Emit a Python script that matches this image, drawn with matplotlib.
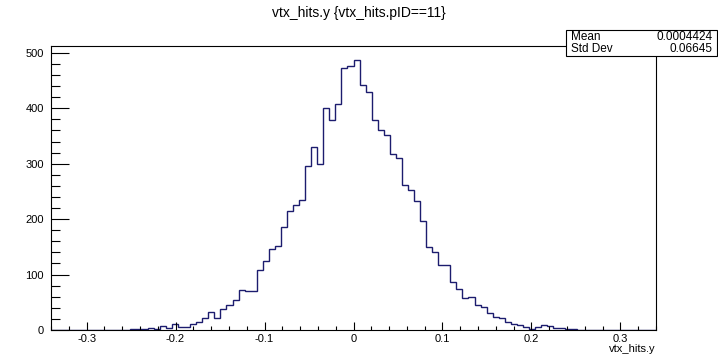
import numpy as np
import matplotlib
matplotlib.use('Agg')
import matplotlib.pyplot as plt
from matplotlib.ticker import MultipleLocator
from matplotlib.patches import Rectangle

plt.rcParams['font.family'] = ['Liberation Sans', 'DejaVu Sans']

# Histogram of vtx_hits.y, 100 bins from -0.34 to 0.34
x_min, x_max, n_bins = -0.34, 0.34, 100
counts = [0] * 13 + [
    1, 1, 2, 3, 2, 7, 4, 11, 5, 5,
    10, 15, 21, 33, 21, 38, 45, 54, 73, 70,
    70, 108, 125, 147, 151, 186, 214, 225, 235, 296,
    330, 300, 400, 378, 407, 472, 476, 488, 442, 429,
    379, 360, 351, 317, 311, 262, 253, 232, 197, 149,
    140, 118, 118, 87, 74, 57, 60, 46, 42, 30,
    24, 22, 14, 11, 9, 5, 2, 6, 9, 7,
    4, 3, 2, 2,
]
counts = counts + [0] * (n_bins - len(counts))

title = 'vtx_hits.y {vtx_hits.pID==11}'
x_title = 'vtx_hits.y'
stats = [('Mean', '0.0004424'), ('Std Dev', '0.06645')]

edges = np.linspace(x_min, x_max, n_bins + 1)

fig = plt.figure(figsize=(7.18, 3.55), dpi=100)
ax = fig.add_axes([51 / 718, 25 / 355, 605 / 718, 284 / 355])

ax.stairs(counts, edges, color='#1c1c6e', linewidth=1.0)
ax.set_xlim(x_min, x_max)
ax.set_ylim(0, 1.05 * max(counts))

ax.xaxis.set_major_locator(MultipleLocator(0.1))
ax.xaxis.set_minor_locator(MultipleLocator(0.02))
ax.yaxis.set_major_locator(MultipleLocator(100))
ax.yaxis.set_minor_locator(MultipleLocator(20))
ax.xaxis.set_major_formatter(plt.FuncFormatter(lambda v, p: '0' if abs(v) < 1e-9 else f'{v:.1f}'))

ax.tick_params(axis='both', which='both', direction='in', top=False, right=False,
               labelsize=8, width=0.8)
ax.tick_params(axis='x', which='major', length=6.1, pad=3)
ax.tick_params(axis='x', which='minor', length=3.1)
ax.tick_params(axis='y', which='major', length=13, pad=5)
ax.tick_params(axis='y', which='minor', length=6.5)
for s in ax.spines.values():
    s.set_linewidth(0.8)

fig.text(0.5, 1 - 13 / 355, title, ha='center', va='center', fontsize=10)
fig.text(656 / 718, 1 - 349 / 355, x_title, ha='right', va='center', fontsize=8)

# stats box
bx0, bx1, by0, by1 = 566 / 718, 717 / 718, 1 - 56 / 355, 1 - 30 / 355
fig.patches.append(Rectangle((bx0, by0), bx1 - bx0, by1 - by0, transform=fig.transFigure,
                             facecolor='white', edgecolor='black', linewidth=0.8, zorder=5))
row_h = (by1 - by0) / len(stats)
for i, (name, val) in enumerate(stats):
    yc = by1 - (i + 0.5) * row_h
    fig.text(bx0 + 5 / 718, yc, name, ha='left', va='center', fontsize=8.5, zorder=6)
    fig.text(bx1 - 4 / 718, yc, val, ha='right', va='center', fontsize=8.5, zorder=6)

fig.savefig('out.png', dpi=100)
